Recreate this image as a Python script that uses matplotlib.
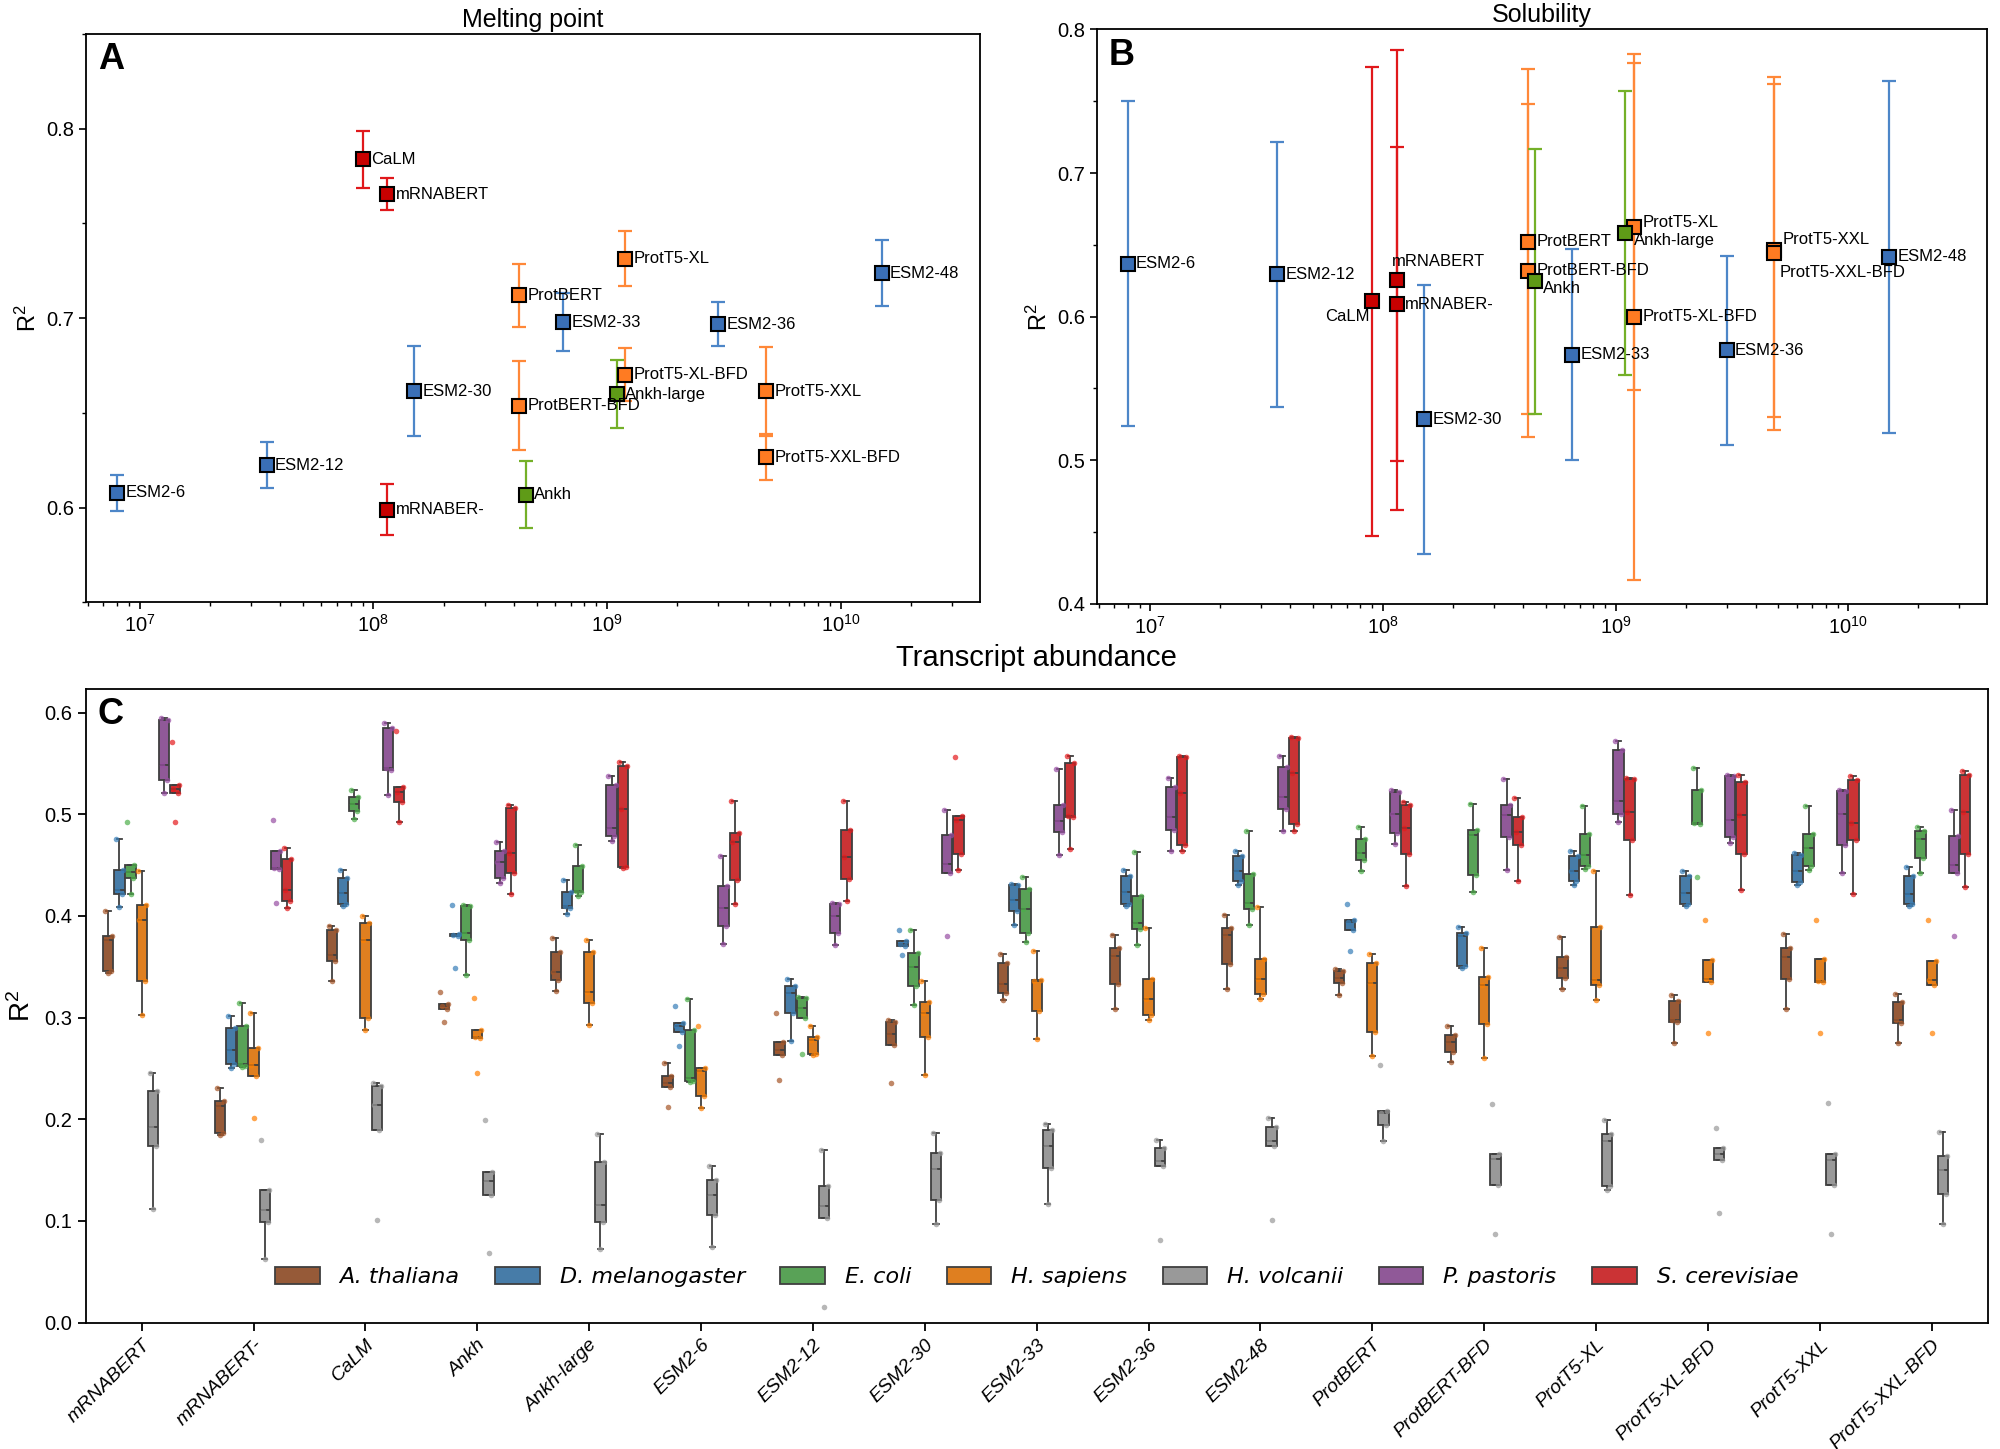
import colorsys
import numpy as np
import matplotlib
matplotlib.use("Agg")
import matplotlib.pyplot as plt
from matplotlib.patches import Patch
from matplotlib.ticker import MultipleLocator, LogLocator, NullFormatter

plt.rcParams['font.family'] = ['Liberation Sans', 'DejaVu Sans']
plt.rcParams['mathtext.default'] = 'regular'

# -------------------------------------------------------------------------
# Panels A and B: mean R^2 vs transcript abundance (with error bars)
# -------------------------------------------------------------------------
ab_models = ['ESM2-6', 'ESM2-12', 'ESM2-30', 'ESM2-33', 'ESM2-36', 'ESM2-48',
             'CaLM', 'mRNABERT', 'mRNABER-',
             'ProtBERT', 'ProtBERT-BFD', 'ProtT5-XL', 'ProtT5-XL-BFD',
             'ProtT5-XXL', 'ProtT5-XXL-BFD', 'Ankh', 'Ankh-large']
ab_family = ['esm'] * 6 + ['rna'] * 3 + ['prot'] * 6 + ['ankh'] * 2
abundance = [8e6, 3.5e7, 1.5e8, 6.5e8, 3.0e9, 1.5e10,
             9.0e7, 1.15e8, 1.15e8,
             4.2e8, 4.2e8, 1.2e9, 1.2e9, 4.8e9, 4.8e9,
             4.5e8, 1.1e9]

melt_r2 = [0.6078, 0.6225, 0.6615, 0.6978, 0.6969, 0.7238,
           0.7837, 0.7653, 0.5989,
           0.7120, 0.6539, 0.7314, 0.6702, 0.6615, 0.6267,
           0.6069, 0.6599]
melt_err = [0.0093, 0.0122, 0.0238, 0.0153, 0.0114, 0.0176,
            0.0150, 0.0084, 0.0134,
            0.0168, 0.0233, 0.0143, 0.0140, 0.0235, 0.0122,
            0.0176, 0.0180]

sol_r2 = [0.6370, 0.6296, 0.5287, 0.5736, 0.5765, 0.6416,
          0.6106, 0.6255, 0.6088,
          0.6523, 0.6321, 0.6627, 0.5998, 0.6462, 0.6440,
          0.6245, 0.6580]
sol_err = [0.1131, 0.0922, 0.0937, 0.0736, 0.0656, 0.1224,
           0.1634, 0.1604, 0.1096,
           0.1201, 0.1157, 0.1140, 0.1833, 0.1158, 0.1230,
           0.0923, 0.0989]

fam_fill = {'esm': '#3a6fb6', 'rna': '#c80000', 'prot': '#ff7b22', 'ankh': '#5f9b17'}
fam_err = {'esm': '#4d86c8', 'rna': '#e0181b', 'prot': '#ff8838', 'ankh': '#74b028'}

# label offsets (points) and alignment for panel B where labels were moved
sol_label_pos = {
    'CaLM': (-2, -11, 'right'),
    'mRNABERT': (-4, 13, 'left'),
    'Ankh': (6, -5, 'left'),
    'Ankh-large': (6, -5, 'left'),
    'ProtT5-XL': (6, 3, 'left'),
    'ProtT5-XXL': (6, 8, 'left'),
    'ProtT5-XXL-BFD': (4, -14, 'left'),
}

# -------------------------------------------------------------------------
# Panel C: per-organism R^2 (5 folds) for each model
# -------------------------------------------------------------------------
c_models = ['mRNABERT', 'mRNABERT-', 'CaLM', 'Ankh', 'Ankh-large', 'ESM2-6',
            'ESM2-12', 'ESM2-30', 'ESM2-33', 'ESM2-36', 'ESM2-48', 'ProtBERT',
            'ProtBERT-BFD', 'ProtT5-XL', 'ProtT5-XL-BFD', 'ProtT5-XXL',
            'ProtT5-XXL-BFD']
species = ['A. thaliana', 'D. melanogaster', 'E. coli', 'H. sapiens',
           'H. volcanii', 'P. pastoris', 'S. cerevisiae']
species_colors = ['#a65628', '#377eb8', '#4daf4a', '#ff7f00',
                  '#999999', '#984ea3', '#e41a1c']

a_thaliana = [
    [0.344, 0.346, 0.376, 0.380, 0.405], [0.184, 0.186, 0.213, 0.218, 0.231],
    [0.336, 0.356, 0.362, 0.386, 0.390], [0.296, 0.308, 0.311, 0.313, 0.325],
    [0.326, 0.337, 0.345, 0.365, 0.378], [0.212, 0.232, 0.236, 0.243, 0.255],
    [0.239, 0.263, 0.268, 0.276, 0.305], [0.236, 0.273, 0.284, 0.296, 0.298],
    [0.317, 0.324, 0.333, 0.354, 0.363], [0.308, 0.333, 0.361, 0.368, 0.381],
    [0.328, 0.353, 0.381, 0.388, 0.401], [0.322, 0.334, 0.339, 0.346, 0.348],
    [0.256, 0.266, 0.276, 0.283, 0.292], [0.328, 0.339, 0.349, 0.360, 0.379],
    [0.275, 0.296, 0.298, 0.316, 0.322], [0.308, 0.338, 0.360, 0.368, 0.382],
    [0.275, 0.295, 0.298, 0.315, 0.323],
]
d_melanogaster = [
    [0.409, 0.422, 0.426, 0.445, 0.476], [0.250, 0.254, 0.268, 0.290, 0.302],
    [0.410, 0.412, 0.423, 0.437, 0.445], [0.349, 0.380, 0.381, 0.382, 0.411],
    [0.402, 0.408, 0.410, 0.424, 0.435], [0.272, 0.286, 0.292, 0.295, 0.311],
    [0.277, 0.305, 0.324, 0.331, 0.338], [0.362, 0.370, 0.372, 0.375, 0.386],
    [0.391, 0.405, 0.416, 0.430, 0.431], [0.410, 0.412, 0.424, 0.439, 0.445],
    [0.430, 0.434, 0.444, 0.459, 0.464], [0.366, 0.386, 0.394, 0.396, 0.412],
    [0.349, 0.351, 0.380, 0.383, 0.389], [0.430, 0.434, 0.444, 0.459, 0.464],
    [0.410, 0.412, 0.423, 0.439, 0.444], [0.430, 0.433, 0.444, 0.460, 0.462],
    [0.410, 0.412, 0.422, 0.439, 0.448],
]
e_coli = [
    [0.422, 0.437, 0.443, 0.450, 0.492], [0.251, 0.252, 0.254, 0.292, 0.314],
    [0.495, 0.503, 0.510, 0.517, 0.524], [0.342, 0.376, 0.383, 0.410, 0.411],
    [0.420, 0.424, 0.425, 0.449, 0.470], [0.237, 0.238, 0.241, 0.288, 0.318],
    [0.264, 0.300, 0.309, 0.319, 0.320], [0.312, 0.331, 0.350, 0.364, 0.386],
    [0.374, 0.383, 0.407, 0.427, 0.438], [0.371, 0.387, 0.393, 0.420, 0.463],
    [0.391, 0.407, 0.413, 0.441, 0.484], [0.444, 0.455, 0.462, 0.476, 0.488],
    [0.424, 0.440, 0.480, 0.485, 0.510], [0.446, 0.449, 0.460, 0.481, 0.508],
    [0.438, 0.490, 0.491, 0.524, 0.546], [0.445, 0.449, 0.467, 0.481, 0.508],
    [0.442, 0.457, 0.476, 0.484, 0.488],
]
h_sapiens = [
    [0.303, 0.336, 0.396, 0.411, 0.444], [0.201, 0.243, 0.253, 0.270, 0.305],
    [0.288, 0.300, 0.376, 0.393, 0.400], [0.245, 0.280, 0.281, 0.288, 0.319],
    [0.293, 0.314, 0.325, 0.365, 0.376], [0.211, 0.223, 0.247, 0.250, 0.292],
    [0.263, 0.264, 0.278, 0.281, 0.292], [0.244, 0.281, 0.305, 0.315, 0.336],
    [0.279, 0.306, 0.336, 0.337, 0.366], [0.298, 0.303, 0.318, 0.338, 0.388],
    [0.318, 0.323, 0.338, 0.358, 0.409], [0.262, 0.286, 0.334, 0.354, 0.363],
    [0.260, 0.294, 0.332, 0.340, 0.368], [0.317, 0.332, 0.337, 0.389, 0.444],
    [0.285, 0.335, 0.338, 0.357, 0.396], [0.285, 0.335, 0.336, 0.358, 0.396],
    [0.285, 0.332, 0.337, 0.356, 0.396],
]
h_volcanii = [
    [0.112, 0.174, 0.192, 0.228, 0.245], [0.062, 0.099, 0.111, 0.130, 0.180],
    [0.101, 0.189, 0.214, 0.233, 0.236], [0.068, 0.125, 0.139, 0.148, 0.199],
    [0.072, 0.099, 0.116, 0.158, 0.185], [0.074, 0.106, 0.125, 0.140, 0.154],
    [0.015, 0.103, 0.115, 0.134, 0.170], [0.097, 0.121, 0.151, 0.167, 0.186],
    [0.117, 0.152, 0.174, 0.189, 0.195], [0.081, 0.154, 0.159, 0.172, 0.180],
    [0.101, 0.174, 0.179, 0.192, 0.201], [0.179, 0.194, 0.206, 0.208, 0.253],
    [0.087, 0.135, 0.161, 0.166, 0.215], [0.130, 0.134, 0.179, 0.185, 0.199],
    [0.108, 0.160, 0.166, 0.172, 0.191], [0.087, 0.135, 0.160, 0.166, 0.216],
    [0.097, 0.126, 0.150, 0.164, 0.187],
]
p_pastoris = [
    [0.521, 0.534, 0.549, 0.593, 0.595], [0.413, 0.446, 0.447, 0.464, 0.494],
    [0.519, 0.544, 0.546, 0.585, 0.590], [0.432, 0.437, 0.453, 0.464, 0.473],
    [0.474, 0.479, 0.487, 0.529, 0.538], [0.372, 0.390, 0.408, 0.429, 0.459],
    [0.371, 0.383, 0.400, 0.412, 0.413], [0.380, 0.442, 0.451, 0.480, 0.504],
    [0.460, 0.483, 0.493, 0.509, 0.545], [0.464, 0.485, 0.497, 0.527, 0.536],
    [0.484, 0.505, 0.517, 0.547, 0.557], [0.471, 0.482, 0.500, 0.522, 0.524],
    [0.445, 0.478, 0.499, 0.509, 0.535], [0.492, 0.500, 0.513, 0.563, 0.572],
    [0.472, 0.478, 0.494, 0.538, 0.539], [0.442, 0.470, 0.500, 0.523, 0.524],
    [0.380, 0.442, 0.450, 0.479, 0.504],
]
s_cerevisiae = [
    [0.492, 0.521, 0.525, 0.529, 0.571], [0.408, 0.415, 0.426, 0.456, 0.467],
    [0.492, 0.512, 0.522, 0.527, 0.582], [0.422, 0.442, 0.462, 0.506, 0.509],
    [0.447, 0.448, 0.505, 0.548, 0.551], [0.412, 0.435, 0.473, 0.482, 0.513],
    [0.415, 0.436, 0.458, 0.485, 0.513], [0.445, 0.461, 0.494, 0.498, 0.556],
    [0.466, 0.497, 0.498, 0.550, 0.557], [0.464, 0.470, 0.521, 0.556, 0.557],
    [0.484, 0.490, 0.541, 0.575, 0.576], [0.429, 0.461, 0.487, 0.509, 0.512],
    [0.434, 0.470, 0.483, 0.497, 0.516], [0.421, 0.475, 0.502, 0.535, 0.536],
    [0.426, 0.461, 0.499, 0.532, 0.539], [0.422, 0.475, 0.491, 0.534, 0.538],
    [0.428, 0.461, 0.502, 0.539, 0.543],
]
species_data = [a_thaliana, d_melanogaster, e_coli, h_sapiens,
                h_volcanii, p_pastoris, s_cerevisiae]


def desaturate(color, prop):
    r, g, b = matplotlib.colors.to_rgb(color)
    h, l, s = colorsys.rgb_to_hls(r, g, b)
    return colorsys.hls_to_rgb(h, l, s * prop)


def scatter_panel(ax, r2, err, title, letter, ylim, label_pos):
    for i, name in enumerate(ab_models):
        fam = ab_family[i]
        ax.errorbar(abundance[i], r2[i], yerr=err[i], fmt='none',
                    ecolor=fam_err[fam], elinewidth=1.6, capsize=5,
                    capthick=1.6, zorder=2)
        ax.plot(abundance[i], r2[i], 's', ms=10, mfc=fam_fill[fam],
                mec='black', mew=1.5, zorder=3)
        dx, dy, ha = label_pos.get(name, (6, 0, 'left'))
        ax.annotate(name, (abundance[i], r2[i]), xytext=(dx, dy),
                    textcoords='offset points', ha=ha, va='center',
                    fontsize=12, zorder=4)
    ax.set_xscale('log')
    ax.set_xlim(5.9e6, 3.95e10)
    ax.set_ylim(*ylim)
    ax.yaxis.set_major_locator(MultipleLocator(0.1))
    ax.yaxis.set_minor_locator(MultipleLocator(0.05))
    ax.xaxis.set_major_locator(LogLocator(base=10, numticks=20))
    ax.xaxis.set_minor_locator(LogLocator(base=10, subs=np.arange(2, 10), numticks=20))
    ax.xaxis.set_minor_formatter(NullFormatter())
    ax.tick_params(which='major', length=5, width=1.2, labelsize=14.5)
    ax.tick_params(which='minor', length=3, width=1.0)
    ax.set_ylabel('R$^2$', fontsize=17, labelpad=4)
    ax.set_title(title, fontsize=18, pad=5)
    ax.text(0.013, 0.985, letter, transform=ax.transAxes, ha='left', va='top',
            fontsize=26, fontweight='bold')
    for sp in ax.spines.values():
        sp.set_linewidth(1.3)


fig = plt.figure(figsize=(20, 14.49), dpi=100)

ax_a = fig.add_axes([0.043, 0.5842, 0.447, 0.3925])
scatter_panel(ax_a, melt_r2, melt_err, 'Melting point', 'A', (0.55, 0.85), {})
ax_a.yaxis.set_major_formatter(matplotlib.ticker.FormatStrFormatter('%.1f'))

ax_b = fig.add_axes([0.5485, 0.5832, 0.445, 0.3965])
scatter_panel(ax_b, sol_r2, sol_err, 'Solubility', 'B', (0.4, 0.8), sol_label_pos)
ax_b.yaxis.set_major_formatter(matplotlib.ticker.FormatStrFormatter('%.1f'))

fig.text(0.518, 1 - 658 / 1449, 'Transcript abundance', ha='center', va='center',
         fontsize=21)

# -------------------------------------------------------------------------
# Panel C: grouped box plots with strip points
# -------------------------------------------------------------------------
ax_c = fig.add_axes([0.0429, 0.0873, 0.9509, 0.4372])
n_sp = len(species)
slot = 0.1
line_col = '#3f3f3f'
jitter = [0.0, 0.025, -0.02, 0.035, -0.03]
x_cat = np.arange(len(c_models))

for k in range(n_sp):
    offset = (k - (n_sp - 1) / 2) * slot
    pos = x_cat + offset
    box_col = desaturate(species_colors[k], 0.75)
    ax_c.boxplot(species_data[k], positions=pos, widths=slot * 0.92,
                 patch_artist=True, showfliers=False, whis=1.5,
                 capwidths=slot * 0.45, manage_ticks=False,
                 boxprops=dict(facecolor=box_col, edgecolor=line_col, linewidth=1.3),
                 whiskerprops=dict(color=line_col, linewidth=1.3),
                 capprops=dict(color=line_col, linewidth=1.3),
                 medianprops=dict(color=line_col, linewidth=1.3))
    for j in range(len(c_models)):
        vals = species_data[k][j]
        xs = pos[j] + np.array(jitter[:len(vals)])
        ax_c.scatter(xs, vals, s=16, color=species_colors[k], alpha=0.7,
                     linewidths=0, zorder=3)

ax_c.set_xlim(-0.5, len(c_models) - 0.5)
ax_c.set_ylim(0, 0.6233)
ax_c.yaxis.set_major_locator(MultipleLocator(0.1))
ax_c.yaxis.set_major_formatter(matplotlib.ticker.FormatStrFormatter('%.1f'))
ax_c.set_xticks(x_cat)
ax_c.set_xticklabels(c_models, rotation=45, ha='right', rotation_mode='anchor',
                     fontstyle='italic', fontsize=14)
ax_c.tick_params(axis='y', labelsize=14.5)
ax_c.tick_params(axis='both', length=6, width=1.3)
ax_c.tick_params(axis='x', pad=4)
ax_c.set_ylabel('R$^2$', fontsize=20, labelpad=6)
ax_c.text(0.006, 0.988, 'C', transform=ax_c.transAxes, ha='left', va='top',
          fontsize=26, fontweight='bold')
for sp in ax_c.spines.values():
    sp.set_linewidth(1.3)

handles = [Patch(facecolor=desaturate(c, 0.75), edgecolor=line_col, linewidth=1.3)
           for c in species_colors]
ax_c.legend(handles, species, loc='lower center', bbox_to_anchor=(0.5, 0.024),
            ncol=n_sp, frameon=False, handlelength=2.0, handleheight=0.8,
            handletextpad=0.9, columnspacing=1.6,
            prop={'family': 'DejaVu Sans', 'style': 'italic', 'size': 16})

fig.savefig('out.png', dpi=100)
